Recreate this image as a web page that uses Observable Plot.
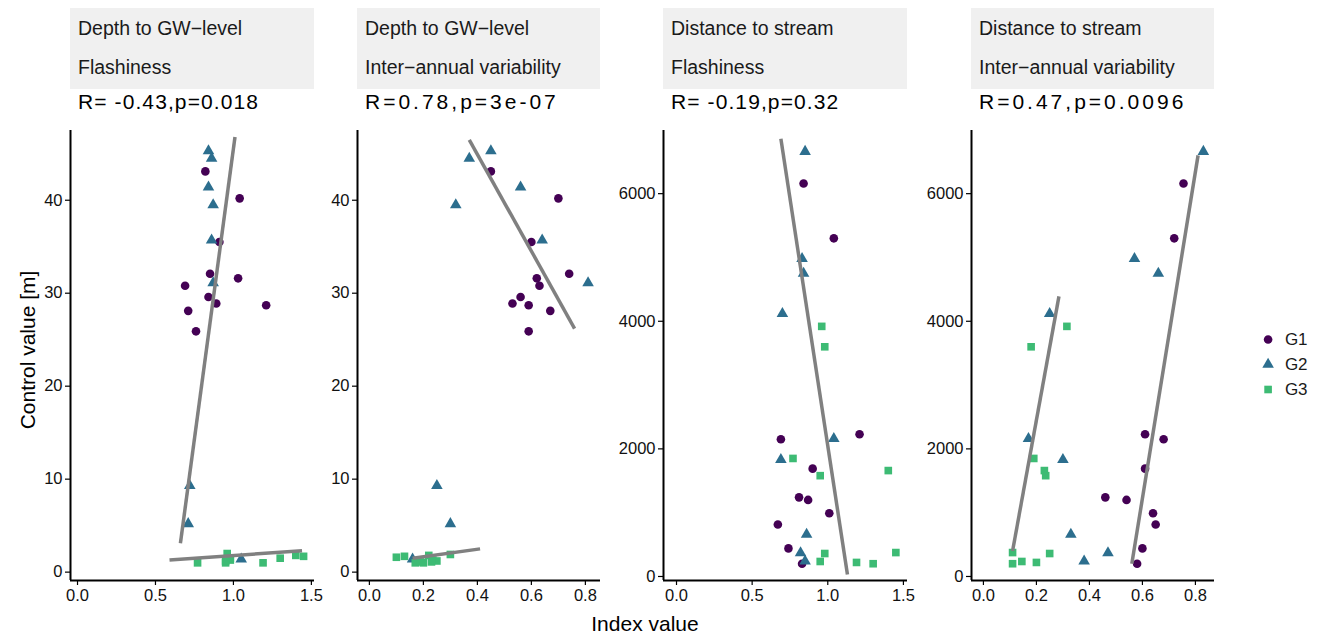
<!DOCTYPE html>
<html>
<head>
<meta charset="utf-8">
<script src="https://cdn.jsdelivr.net/npm/d3@7"></script>
<script src="https://cdn.jsdelivr.net/npm/@observablehq/plot@0.6"></script>
<style>
body { margin: 0; background: #fff; font-family: "Liberation Sans", Arial, sans-serif; }
#wrap { position: relative; width: 1338px; height: 637px; }
.strip { position: absolute; top: 8px; height: 81px; background: #f0f0f0; font-size: 19.5px; color: #1a1a1a; }
.strip div { position: absolute; left: 8px; white-space: nowrap; }
.stat { position: absolute; top: 90px; font-size: 21px; color: #000; white-space: nowrap; }
.pan { position: absolute; top: 125px; }
#ylab { position: absolute; left: 28px; top: 350px; transform: translate(-50%, -50%) rotate(-90deg); font-size: 21px; white-space: nowrap; }
#xlab { position: absolute; left: 645px; top: 612px; transform: translateX(-50%); font-size: 21px; }
#legend { position: absolute; left: 1250px; top: 305px; }
</style>
</head>
<body>
<div id="wrap">
  <div id="ylab">Control value [m]</div>
  <div id="xlab">Index value</div>
  <div id="legend"></div>
</div>
<script>
const groups = ["G1", "G2", "G3"];
const colors = ["#440154", "#2c6e8e", "#3dbb74"];
const symbols = ["circle", "triangle", "square"];

const stripTop = ["Depth to GW\u2212level", "Depth to GW\u2212level", "Distance to stream", "Distance to stream"];
const stripBottom = ["Flashiness", "Inter\u2212annual variability", "Flashiness", "Inter\u2212annual variability"];
const stats = ["R= -0.43,p=0.018", "R=0.78,p=3e-07", "R= -0.19,p=0.32", "R=0.47,p=0.0096"];

// panel 1: Depth vs Flashiness
const p1G1x = [0.82, 1.04, 0.91, 0.85, 1.03, 0.69, 0.84, 0.89, 1.21, 0.71, 0.76];
const p1G1y = [43.1, 40.2, 35.5, 32.1, 31.6, 30.8, 29.6, 28.9, 28.7, 28.1, 25.9];
const p1G2x = [0.84, 0.86, 0.84, 0.87, 0.86, 0.87, 0.72, 0.71, 1.05];
const p1G2y = [45.3, 44.5, 41.4, 39.5, 35.7, 31.1, 9.3, 5.2, 1.4];
const p1G3x = [0.96, 0.98, 0.77, 0.95, 1.40, 0.98, 1.45, 0.95, 1.19, 1.30];
const p1G3y = [2.0, 1.3, 1.0, 1.0, 1.8, 1.5, 1.7, 1.2, 1.0, 1.5];
const p1Fits = [[0.66, 3.1, 1.01, 46.8], [0.59, 1.3, 1.44, 2.3]];

// panel 2: Depth vs Inter-annual variability
const p2G1x = [0.45, 0.70, 0.60, 0.74, 0.62, 0.63, 0.56, 0.53, 0.59, 0.67, 0.59];
const p2G1y = [43.1, 40.2, 35.5, 32.1, 31.6, 30.8, 29.6, 28.9, 28.7, 28.1, 25.9];
const p2G2x = [0.45, 0.37, 0.56, 0.32, 0.64, 0.81, 0.25, 0.30, 0.16];
const p2G2y = [45.3, 44.5, 41.4, 39.5, 35.7, 31.1, 9.3, 5.2, 1.4];
const p2G3x = [0.30, 0.17, 0.19, 0.22, 0.235, 0.10, 0.25, 0.13, 0.20, 0.23];
const p2G3y = [1.9, 1.0, 1.1, 1.8, 1.3, 1.6, 1.2, 1.7, 1.0, 1.1];
const p2Fits = [[0.37, 46.5, 0.76, 26.2], [0.16, 1.5, 0.41, 2.5]];

// panel 3: Distance vs Flashiness
const p3G1x = [0.84, 1.04, 0.69, 1.21, 0.90, 0.81, 0.87, 1.01, 0.67, 0.74, 0.83];
const p3G1y = [6160, 5300, 2150, 2230, 1690, 1240, 1200, 990, 815, 440, 200];
const p3G2x = [0.85, 0.83, 0.84, 0.70, 1.04, 0.69, 0.86, 0.82, 0.85];
const p3G2y = [6660, 4980, 4750, 4120, 2160, 1830, 660, 370, 240];
const p3G3x = [0.96, 0.98, 0.77, 0.95, 1.40, 0.98, 1.45, 0.95, 1.19, 1.30];
const p3G3y = [3920, 3600, 1850, 1580, 1660, 360, 375, 235, 220, 200];
const p3Fits = [[0.69, 6860, 1.13, 30]];

// panel 4: Distance vs Inter-annual variability
const p4G1x = [0.755, 0.72, 0.61, 0.68, 0.61, 0.46, 0.54, 0.64, 0.65, 0.60, 0.58];
const p4G1y = [6160, 5300, 2230, 2150, 1690, 1240, 1200, 990, 815, 440, 200];
const p4G2x = [0.83, 0.57, 0.66, 0.25, 0.17, 0.30, 0.33, 0.47, 0.38];
const p4G2y = [6660, 4980, 4750, 4120, 2160, 1830, 660, 370, 240];
const p4G3x = [0.315, 0.18, 0.19, 0.23, 0.235, 0.11, 0.25, 0.11, 0.145, 0.20];
const p4G3y = [3920, 3600, 1850, 1660, 1580, 375, 360, 200, 235, 220];
const p4Fits = [[0.11, 400, 0.285, 4390], [0.56, 200, 0.81, 6600]];

const panels = [
  {left: 70, w: 244, ml: 40, xd: [-0.045, 1.52], yd: [-0.9, 47.5], xt: [0, 0.5, 1, 1.5], yt: [0, 10, 20, 30, 40],
   xs: [p1G1x, p1G2x, p1G3x], ys: [p1G1y, p1G2y, p1G3y], fits: p1Fits, ls: "1.1px"},
  {left: 357, w: 243, ml: 40, xd: [-0.044, 0.856], yd: [-0.9, 47.5], xt: [0, 0.2, 0.4, 0.6, 0.8], yt: [0, 10, 20, 30, 40],
   xs: [p2G1x, p2G2x, p2G3x], ys: [p2G1y, p2G2y, p2G3y], fits: p2Fits, ls: "3px"},
  {left: 663, w: 244, ml: 60, xd: [-0.086, 1.527], yd: [-63, 6990], xt: [0, 0.5, 1, 1.5], yt: [0, 2000, 4000, 6000],
   xs: [p3G1x, p3G2x, p3G3x], ys: [p3G1y, p3G2y, p3G3y], fits: p3Fits, ls: "1.1px"},
  {left: 971, w: 243, ml: 60, xd: [-0.045, 0.872], yd: [-63, 6990], xt: [0, 0.2, 0.4, 0.6, 0.8], yt: [0, 2000, 4000, 6000],
   xs: [p4G1x, p4G2x, p4G3x], ys: [p4G1y, p4G2y, p4G3y], fits: p4Fits, ls: "3px"}
];

const wrap = document.getElementById("wrap");

panels.forEach((p, i) => {
  const strip = document.createElement("div");
  strip.className = "strip";
  strip.style.left = p.left + "px";
  strip.style.width = p.w + "px";
  strip.innerHTML = `<div style="top:9px">${stripTop[i]}</div><div style="top:48px">${stripBottom[i]}</div>`;
  wrap.appendChild(strip);

  const st = document.createElement("div");
  st.className = "stat";
  st.style.left = (p.left + 8) + "px";
  st.style.letterSpacing = p.ls;
  st.textContent = stats[i];
  wrap.appendChild(st);

  const pts = [];
  groups.forEach((g, k) => p.xs[k].forEach((x, j) => pts.push({x, y: p.ys[k][j], g})));
  const fits = p.fits.map(f => ({x1: f[0], y1: f[1], x2: f[2], y2: f[3]}));

  const chart = Plot.plot({
    width: p.w + p.ml,
    height: 495,
    marginLeft: p.ml,
    marginRight: 0,
    marginTop: 5,
    marginBottom: 40,
    style: {fontFamily: "Liberation Sans, Arial, sans-serif", fontSize: "16.5px", color: "#111", overflow: "visible"},
    x: {domain: p.xd},
    y: {domain: p.yd},
    symbol: {domain: groups, range: symbols},
    color: {domain: groups, range: colors},
    marks: [
      Plot.axisX({ticks: p.xt, tickSize: 5, tickPadding: 4, label: null, tickFormat: d3.format(".1f"), stroke: "#000", strokeWidth: 1.2}),
      Plot.axisY({ticks: p.yt, tickSize: 5, tickPadding: 3, label: null, tickFormat: d => String(d), stroke: "#000", strokeWidth: 1.2}),
      Plot.ruleX([p.xd[0]], {stroke: "#000", strokeWidth: 2}),
      Plot.ruleY([p.yd[0]], {stroke: "#000", strokeWidth: 2}),
      Plot.dot(pts, {x: "x", y: "y", symbol: "g", fill: "g", r: 4.3}),
      Plot.link(fits, {x1: "x1", y1: "y1", x2: "x2", y2: "y2", stroke: "#808080", strokeWidth: 3.5})
    ]
  });
  const holder = document.createElement("div");
  holder.className = "pan";
  holder.style.left = (p.left - p.ml) + "px";
  holder.appendChild(chart);
  wrap.appendChild(holder);
});

const legend = Plot.plot({
  width: 80, height: 120, margin: 0,
  x: {domain: [0, 1], axis: null},
  y: {domain: groups, axis: null, range: [21, 96]},
  symbol: {domain: groups, range: symbols},
  color: {domain: groups, range: colors},
  style: {fontFamily: "Liberation Sans, Arial, sans-serif", fontSize: "17px", color: "#1a1a1a"},
  marks: [
    Plot.dot(groups, {x: () => 0.22, y: d => d, symbol: d => d, fill: d => d, r: 4.3}),
    Plot.text(groups, {x: () => 0.43, y: d => d, text: d => d, textAnchor: "start", fill: "#1a1a1a"})
  ]
});
document.getElementById("legend").appendChild(legend);
</script>
</body>
</html>
